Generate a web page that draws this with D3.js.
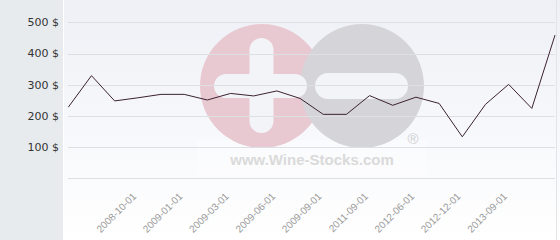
<!DOCTYPE html>
<html><head><meta charset="utf-8">
<script src="https://cdn.jsdelivr.net/npm/d3@7"></script>
<style>html,body{margin:0;padding:0;background:#fff;}svg{display:block;}</style>
</head><body>
<svg id="c" width="560" height="240"></svg>
<script>
const values = [228,329,248,258,269,269,251,272,264,280,256,205,205,265,234,260,240,133,237,301,224,459];
const tickIndex = [3,5,7,9,11,13,15,17,19];
const tickLabels = ["2008-10-01","2009-01-01","2009-03-01","2009-06-01","2009-09-01","2011-09-01","2012-06-01","2012-12-01","2013-09-01"];
const gridValues = [0,100,200,300,400,500];
const yLabelValues = [100,200,300,400,500];

const svg = d3.select("#c");
const W = 560, H = 240;
const defs = svg.append("defs");
const g = defs.append("linearGradient").attr("id","bg").attr("x1",0).attr("y1",0).attr("x2",0).attr("y2",1);
g.append("stop").attr("offset","0%").attr("stop-color","#eef0f6");
g.append("stop").attr("offset","100%").attr("stop-color","#ffffff");

svg.append("rect").attr("x",0).attr("y",0).attr("width",W).attr("height",H).attr("fill","url(#bg)");
svg.append("rect").attr("x",0).attr("y",0).attr("width",63).attr("height",H).attr("fill","#e7ebee");
svg.append("rect").attr("x",63).attr("y",0).attr("width",1).attr("height",H).attr("fill","#ffffff");
svg.append("rect").attr("x",556).attr("y",0).attr("width",1).attr("height",H).attr("fill","#e2e4e8");

const x = d3.scalePoint().domain(d3.range(values.length)).range([68.3, 555]);
const y = d3.scaleLinear().domain([0,500]).range([178.3, 22.3]);

// watermark
const wm = svg.append("g");
wm.append("rect").attr("x",197).attr("y",140).attr("width",230).attr("height",35).attr("fill","#ffffff").attr("opacity",0.35);
wm.append("circle").attr("cx",262).attr("cy",86).attr("r",62).attr("fill","#e8c9d1");
wm.append("circle").attr("cx",362).attr("cy",86).attr("r",62).attr("fill","#d5d5d9");
wm.append("rect").attr("x",249.5).attr("y",38).attr("width",24).attr("height",95).attr("rx",12).attr("fill","#f3f4f8");
wm.append("rect").attr("x",214).attr("y",74).attr("width",93).attr("height",24).attr("rx",12).attr("fill","#f3f4f8");
wm.append("rect").attr("x",315).attr("y",73).attr("width",93).attr("height",26).attr("rx",13).attr("fill","#f3f4f8");
wm.append("text").attr("x",312).attr("y",165).attr("text-anchor","middle")
  .attr("font-family","Liberation Sans, Arial, sans-serif").attr("font-weight","bold").attr("font-size",15)
  .attr("fill","#dadada").text("www.Wine-Stocks.com");
wm.append("text").attr("x",413).attr("y",144).attr("text-anchor","middle")
  .attr("font-family","Liberation Sans, Arial, sans-serif").attr("font-size",15)
  .attr("fill","#cfcfd2").text("®");

// grid
svg.append("g").selectAll("line").data(gridValues).join("line")
  .attr("x1",68).attr("x2",555)
  .attr("y1",d=>Math.round(y(d))+0.5).attr("y2",d=>Math.round(y(d))+0.5)
  .attr("stroke","#dedfe3").attr("stroke-width",1);

// y labels
svg.append("g").selectAll("text").data(yLabelValues).join("text")
  .attr("x",59).attr("y",d=>y(d)).attr("dy","0.35em").attr("text-anchor","end")
  .attr("font-family","DejaVu Sans, Verdana, sans-serif").attr("font-size",11)
  .attr("fill","#333").text(d=>d+" $");

// x labels
svg.append("g").selectAll("text").data(tickIndex).join("text")
  .attr("transform",d=>`translate(${x(d)-1},197) rotate(-45)`)
  .attr("text-anchor","end")
  .attr("font-family","Liberation Sans, Arial, sans-serif").attr("font-size",10)
  .attr("fill","#9a9a9a").text((d,i)=>tickLabels[i]);

// line
svg.append("path").datum(values)
  .attr("d", d3.line().x((d,i)=>x(i)).y(d=>y(d)))
  .attr("fill","none").attr("stroke","#3b2232").attr("stroke-width",1);
</script>
</body></html>
